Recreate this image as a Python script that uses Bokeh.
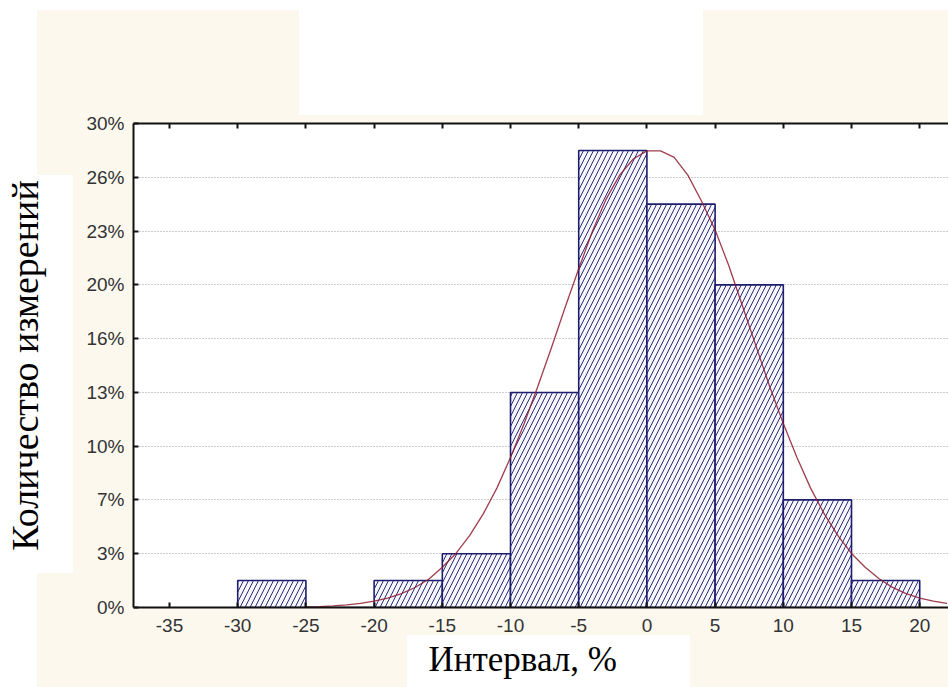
from bokeh.embed import file_html
from bokeh.models import ColumnDataSource, FixedTicker, LinearAxis, Range1d, Title
from bokeh.plotting import figure
from bokeh.resources import INLINE

# Histogram of deviations: bin edges (%) and share of measurements per bin (%)
bin_left = [-30, -25, -20, -15, -10, -5, 0, 5, 10, 15]
bin_right = [-25, -20, -15, -10, -5, 0, 5, 10, 15, 20]
share = [1.67, 0.0, 1.67, 3.33, 13.33, 28.33, 25.0, 20.0, 6.67, 1.67]

# Fitted normal curve, sampled along the interval axis
curve_x = [-25, -24, -23, -22, -21, -20, -19, -18, -17, -16, -15, -14, -13, -12,
           -11, -10, -9, -8, -7, -6, -5, -4, -3, -2, -1, 0, 1, 2, 3, 4, 5, 6,
           7, 8, 9, 10, 11, 12, 13, 14, 15, 16, 17, 18, 19, 20, 21, 22]
curve_y = [0.04, 0.06, 0.10, 0.16, 0.25, 0.39, 0.58, 0.86, 1.24, 1.75, 2.5, 3.35,
           4.45, 5.8, 7.4, 9.3, 11.4, 13.7, 16.1, 18.6, 21.0, 23.3, 25.3, 26.8,
           27.8, 28.3, 28.3, 27.9, 26.8, 25.2, 23.4, 21.2, 18.7, 16.2, 13.7,
           11.4, 9.3, 7.4, 5.8, 4.45, 3.35, 2.5, 1.8, 1.25, 0.86, 0.58, 0.39, 0.25]

# Axis ticks and their printed labels
x_ticks = [-35, -30, -25, -20, -15, -10, -5, 0, 5, 10, 15, 20]
x_tick_labels = ["-35", "-30", "-25", "-20", "-15", "-10", "-5", "0", "5", "10", "15", "20"]
y_ticks = [i * 10 / 3 for i in range(10)]
y_tick_labels = ["0%", "3%", "7%", "10%", "13%", "16%", "20%", "23%", "26%", "30%"]

x_title = "Интервал, %"
y_title = "Количество измерений"

BEIGE = "#fcf8ee"
WHITE = "#ffffff"


def patch(x, y, w, h):
    return f"linear-gradient({WHITE},{WHITE}) {x}px {y}px / {w}px {h}px no-repeat"


page_background = ", ".join([
    patch(299, 0, 404, 115),    # blank area above the chart
    patch(0, 175, 73, 398),     # box behind the vertical title
    patch(407, 635, 283, 52),   # box behind the horizontal title
    patch(0, 0, 37, 687),       # left margin strip
    patch(0, 0, 948, 10),       # top margin strip
    BEIGE,
])

p = figure(
    width=948, height=687,
    x_range=Range1d(-37.64, 22.11), y_range=Range1d(0, 30),
    output_backend="svg", toolbar_location=None,
    min_border_left=133, min_border_right=0,
    min_border_top=123, min_border_bottom=80,
)
p.styles = {"background": page_background}
p.border_fill_color = None
p.background_fill_color = WHITE
p.outline_line_color = None

src = ColumnDataSource(dict(left=bin_left, right=bin_right, top=share,
                            bottom=[0] * len(share)))
p.quad(left="left", right="right", top="top", bottom="bottom", source=src,
       fill_color="#f6f6fd", line_color="#1d1d6e", line_width=1.6,
       hatch_pattern="/", hatch_color="#2a2a78", hatch_scale=10,
       hatch_weight=1.0)

p.line(curve_x, curve_y, line_color="#8e1b2e", line_width=1.3, line_alpha=0.85)

# Axes
tick_font = "Liberation Sans"
for ax in (p.xaxis[0], p.yaxis[0]):
    ax.axis_line_width = 2
    ax.axis_line_color = "#111111"
    ax.major_tick_in = 5
    ax.major_tick_out = 0
    ax.major_tick_line_width = 2
    ax.major_tick_line_color = "#111111"
    ax.minor_tick_line_color = None
    ax.major_label_text_font = tick_font
    ax.major_label_text_font_size = "19px"
    ax.major_label_text_color = "#333333"

p.xaxis.ticker = FixedTicker(ticks=x_ticks)
p.xaxis.major_label_overrides = {t: lab for t, lab in zip(x_ticks, x_tick_labels)}
p.xaxis.major_label_standoff = 11
p.yaxis.ticker = FixedTicker(ticks=y_ticks)
p.yaxis.major_label_overrides = {t: lab for t, lab in zip(y_ticks, y_tick_labels)}
p.yaxis.major_label_standoff = 9

# Vertical title carried by the left axis
p.yaxis.axis_label = y_title
p.yaxis.axis_label_standoff = 37
p.yaxis.axis_label_text_font = "Liberation Serif"
p.yaxis.axis_label_text_font_size = "38px"
p.yaxis.axis_label_text_font_style = "normal"
p.yaxis.axis_label_text_color = "#000000"

top_axis = LinearAxis(ticker=FixedTicker(ticks=x_ticks))
top_axis.axis_line_width = 2
top_axis.axis_line_color = "#111111"
top_axis.major_tick_in = 5
top_axis.major_tick_out = 0
top_axis.major_tick_line_width = 2
top_axis.major_tick_line_color = "#111111"
top_axis.minor_tick_line_color = None
top_axis.major_label_text_font_size = "0px"
top_axis.major_label_text_color = None
p.add_layout(top_axis, "above")

# Grid: dotted horizontal lines only
p.xgrid.grid_line_color = None
p.ygrid.ticker = FixedTicker(ticks=y_ticks[1:])
p.ygrid.grid_line_color = "#9a9a9a"
p.ygrid.grid_line_dash = "1 2"
p.ygrid.grid_line_width = 1

# Horizontal title under the axis
p.add_layout(Title(text=x_title, align="left", offset=295, standoff=6,
                   text_font="Liberation Serif", text_font_size="35px",
                   text_font_style="normal", text_color="#000000"), "below")

open("out.html", "w").write(file_html(p, INLINE))
